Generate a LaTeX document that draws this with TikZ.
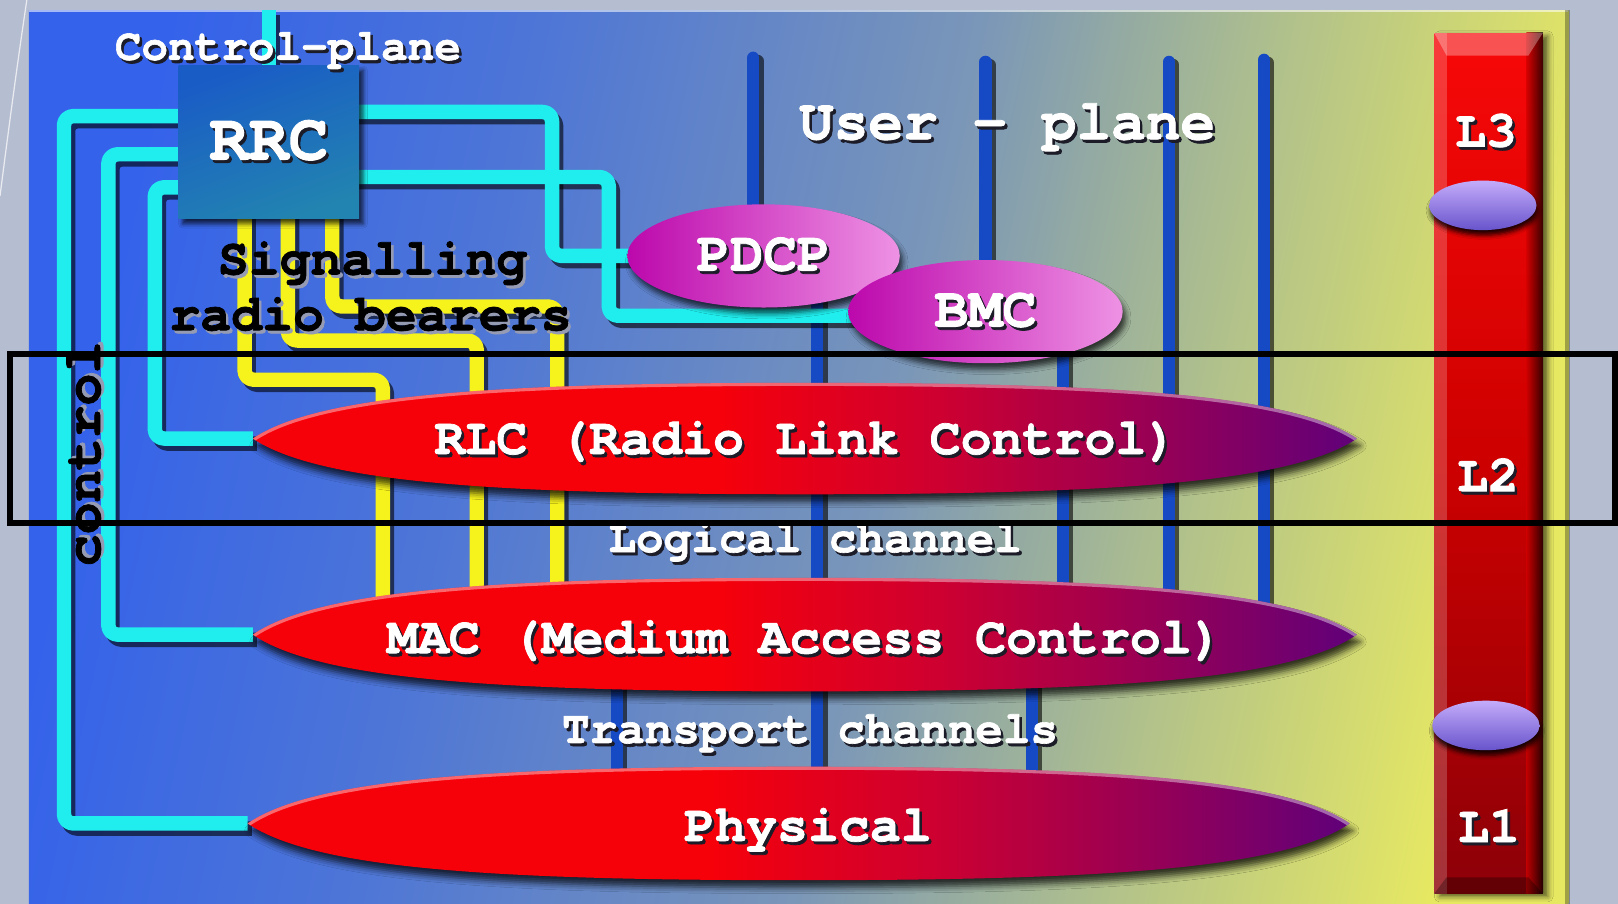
\documentclass[tikz,border=0pt]{standalone}
\usepackage{fontspec}
\newfontfamily\cour{texgyrecursor}[Extension=.otf, UprightFont=*-regular, BoldFont=*-bold, BoldFeatures={FakeBold=1.4}]
\usetikzlibrary{shapes.geometric,calc,shadows.blur}

\definecolor{slide}{RGB}{181,189,208}
\definecolor{panelA}{RGB}{52,98,234}
\definecolor{panelB}{RGB}{78,118,214}
\definecolor{panelC}{RGB}{122,150,184}
\definecolor{panelD}{RGB}{178,194,138}
\definecolor{panelE}{RGB}{230,232,98}
\definecolor{wirecyan}{RGB}{32,238,238}
\definecolor{wireyellow}{RGB}{246,242,28}
\definecolor{wireblue}{RGB}{22,74,196}
\definecolor{lensred}{RGB}{246,0,10}
\definecolor{lensmid}{RGB}{206,0,48}
\definecolor{lensdeep}{RGB}{150,0,86}
\definecolor{lenspurple}{RGB}{96,0,122}
\definecolor{magleft}{RGB}{188,8,172}
\definecolor{magright}{RGB}{238,146,228}
\definecolor{rrctop}{RGB}{26,92,198}
\definecolor{rrcbottom}{RGB}{34,132,176}
\definecolor{bartop}{RGB}{248,8,8}
\definecolor{barmid}{RGB}{205,0,0}
\definecolor{barbottom}{RGB}{140,0,8}
\definecolor{disctop}{RGB}{196,172,250}
\definecolor{discbottom}{RGB}{104,84,204}
\definecolor{darkshade}{RGB}{28,28,40}
\definecolor{lightshade}{RGB}{150,155,180}

\pgfdeclarehorizontalshading{panelshade}{100bp}{color(0bp)=(panelA); color(25bp)=(panelA); color(38bp)=(panelB); color(53bp)=(panelC); color(64bp)=(panelD); color(75bp)=(panelE); color(100bp)=(panelE)}
\pgfdeclarehorizontalshading{lensshade}{100bp}{color(0bp)=(lensred); color(25bp)=(lensred); color(46bp)=(lensred); color(56bp)=(lensmid); color(66bp)=(lensdeep); color(75bp)=(lenspurple); color(100bp)=(lenspurple)}

\pgfdeclarelayer{back}
\pgfdeclarelayer{wires}
\pgfsetlayers{back,wires,main}

\newcommand\fsz[1]{\fontsize{#1}{#1}\selectfont}
% text with a small offset shadow behind it
\newcommand\shd[2]{\makebox[0pt][l]{\hspace*{2.5pt}\raisebox{-3pt}{\textcolor{#1}{#2}}}#2}
% pointed oval: centre x, centre y, half width, half height
\newcommand\lensoutline[4]{(#1-#3,#2) .. controls (#1-0.88*#3,#2-0.8*#4) and (#1-0.552*#3,#2-#4) .. (#1,#2-#4) .. controls (#1+0.552*#3,#2-#4) and (#1+0.88*#3,#2-0.8*#4) .. (#1+#3,#2) .. controls (#1+0.88*#3,#2+0.8*#4) and (#1+0.552*#3,#2+#4) .. (#1,#2+#4) .. controls (#1-0.552*#3,#2+#4) and (#1-0.88*#3,#2+0.8*#4) .. cycle}
\newcommand\lensrim[4]{(#1-#3,#2) .. controls (#1-0.88*#3,#2-0.8*#4) and (#1-0.552*#3,#2-#4) .. (#1,#2-#4) .. controls (#1+0.552*#3,#2-#4) and (#1+0.88*#3,#2-0.8*#4) .. (#1+#3,#2)}
% a shaded layer oval with a light upper rim
\newcommand\layeroval[4]{%
  \shade[lens] \lensoutline{#1}{#2}{#3}{#4};
  \begin{scope}
    \clip \lensoutline{#1}{#2}{#3}{#4};
    \draw[rim] \lensrim{#1}{#2}{#3}{#4};
  \end{scope}}

% wire routes, drawn once as shadow and once in colour
\newcommand\bluewires[1]{%
  \draw[#1] (up1) -- (up1 |- pdcp.center);
  \draw[#1] (up2) -- (bmc.center);
  \draw[#1] (up3) -- (up3 |- macC);
  \draw[#1] (up4) -- (up4 |- macC);
  \draw[#1] (lg1) -- (lg1 |- phyC);
  \draw[#1] (lg2) -- (lg2 |- macC);
  \draw[#1] (tr1) -- (tr1 |- phyC);
  \draw[#1] (tr3) -- (tr3 |- phyC);}
\newcommand\cyanwires[1]{%
  \draw[#1] (rrc.center) -- (cpTop);
  \draw[#1] ([yshift=25pt]rrc.center) -| (c1) -- (phyW);
  \draw[#1] ([yshift=-12pt]rrc.center) -| (c2) -- (macW);
  \draw[#1] ([yshift=-44pt]rrc.center) -| (c3) -- (rlcW);
  \draw[#1] ([yshift=29pt]rrc.center) -| (c4) -- (pdcp.center);
  \draw[#1] ([yshift=-34pt]rrc.center) -| (c5) -- (c5 -| bmc.center);}
\newcommand\yellowwires[1]{%
  \draw[#1] ([xshift=-23.5pt]rrc.center) |- (y1) -- (y1 |- macC);
  \draw[#1] ([xshift=18.5pt]rrc.center) |- (y2) -- (y2 |- macC);
  \draw[#1] ([xshift=61.5pt]rrc.center) |- (y3) -- (y3 |- macC);}

\begin{document}
\begin{tikzpicture}[x=1pt,y=-1pt,
  wire/.style={line width=#1, rounded corners=9pt, line join=round},
  wshade/.style={wire=#1, draw=black, draw opacity=.6},
  cyanwire/.style={wire=14pt, draw=wirecyan},
  yellowwire/.style={wire=14pt, draw=wireyellow},
  bluewire/.style={wire=12pt, draw=wireblue, line cap=round},
  blueshade/.style={wshade=12pt, line cap=round},
  lens/.style={shading=lensshade,
    blur shadow={shadow xshift=3pt, shadow yshift=-7pt, shadow blur radius=6pt, shadow opacity=75}},
  rim/.style={draw=white, draw opacity=.4, line width=6pt},
  wtext/.style={anchor=base, inner sep=0pt, text=white},
  btext/.style={anchor=base, inner sep=0pt, text=black},
  magnode/.style={ellipse, minimum height=100pt, inner sep=0pt, left color=magleft, right color=magright,
    text=white, blur shadow={shadow xshift=3pt, shadow yshift=-6pt, shadow blur radius=5pt, shadow opacity=70}},
  rrcbox/.style={rectangle, minimum width=175pt, minimum height=149pt, inner sep=0pt,
    top color=rrctop, bottom color=rrcbottom, shading angle=20, text=white, font={\cour\bfseries\fsz{64}},
    blur shadow={shadow xshift=4pt, shadow yshift=-5pt, shadow blur radius=4pt, shadow opacity=70}},
  layerbar/.style={rectangle, minimum width=105pt, minimum height=834pt, inner sep=0pt,
    top color=bartop, bottom color=barbottom, middle color=barmid,
    blur shadow={shadow xshift=5pt, shadow yshift=-3pt, shadow blur radius=5pt, shadow opacity=60}},
  disc/.style={ellipse, minimum width=104pt, minimum height=48pt, inner sep=0pt,
    top color=disctop, bottom color=discbottom,
    blur shadow={shadow xshift=1pt, shadow yshift=-5pt, shadow blur radius=4pt, shadow opacity=85}}
]
\useasboundingbox (0,0) rectangle (1568,876);

% ---------- layer centres and tips ----------
\coordinate (rlcC) at (780,425);
\coordinate (macC) at (780,615);
\coordinate (phyC) at (774,798);
\coordinate (rlcW) at (245,425);
\coordinate (macW) at (245,615);
\coordinate (phyW) at (240,798);

% ---------- protocol layers ----------
\layeroval{780}{425}{535}{54}
\layeroval{780}{615}{535}{55}
\layeroval{774}{798}{534}{55}

\node[magnode, minimum width=264pt, font={\cour\bfseries\fsz{54}}] (pdcp) at (740,248) {\shd{darkshade}{PDCP}};
\node[magnode, minimum width=266pt, font={\cour\bfseries\fsz{55}}] (bmc) at (955,302) {\shd{darkshade}{BMC}};
\node[rrcbox] (rrc) at (260.5,137.5) {\raisebox{4pt}{\shd{darkshade}{RRC}}};

% ---------- labels ----------
\node[wtext, font={\cour\bfseries\fsz{43}}] (cplane) at (279,58) {\shd{darkshade}{Control-plane}};
\node[wtext, font={\cour\bfseries\fsz{56}}] (uplane) at (976,135) {\shd{darkshade}{User - plane}};
\node[btext, font={\cour\bfseries\fsz{50}}] (srb1) at (361,266) {\shd{lightshade}{Signalling}};
\node[btext, font={\cour\bfseries\fsz{50}}] (srb2) at (359,320) {\shd{lightshade}{radio bearers}};
\node[btext, rotate=90, font={\cour\bfseries\fsz{52}}] (ctrl) at (97,440) {\shd{lightshade}{control}};
\node[wtext, font={\cour\bfseries\fsz{50}}] (rlc) at (781,440) {\shd{darkshade}{RLC (Radio Link Control)}};
\node[wtext, font={\cour\bfseries\fsz{50}}] (mac) at (780,633) {\shd{darkshade}{MAC (Medium Access Control)}};
\node[wtext, font={\cour\bfseries\fsz{50}}] (phy) at (783,815) {\shd{darkshade}{Physical}};
\node[wtext, font={\cour\bfseries\fsz{44.5}}] (logch) at (790,535) {\shd{darkshade}{Logical channel}};
\node[wtext, font={\cour\bfseries\fsz{44.5}}] (trch) at (785,720) {\shd{darkshade}{Transport channels}};

% ---------- L1/L2/L3 bar ----------
\node[layerbar] (bar) at (1442.5,449) {};
\fill[white, opacity=.2] (bar.north west) rectangle ([xshift=12pt]bar.south west);
\shade[left color=barmid, right color=black, opacity=.75] ([xshift=-16pt]bar.north east) rectangle (bar.south east);
\fill[white, opacity=.3] (bar.north west) -- (bar.north east) -- ([xshift=-14pt,yshift=-22pt]bar.north east) -- ([xshift=12pt,yshift=-22pt]bar.north west) -- cycle;
\fill[black, opacity=.3] (bar.south west) -- (bar.south east) -- ([xshift=-14pt,yshift=16pt]bar.south east) -- ([xshift=12pt,yshift=16pt]bar.south west) -- cycle;
\node[disc] (disc23) at (1437,199) {};
\node[disc] (disc12) at (1440,703) {};
\node[wtext, font={\cour\bfseries\fsz{50}}] (l3) at (1440,142) {\shd{darkshade}{L3}};
\node[wtext, font={\cour\bfseries\fsz{50}}] (l2) at (1442,476) {\shd{darkshade}{L2}};
\node[wtext, font={\cour\bfseries\fsz{50}}] (l1) at (1443,816) {\shd{darkshade}{L1}};

% ---------- L2 frame ----------
\draw[line width=5.5pt] (10,343) rectangle (1565,507);

% ---------- wiring ----------
\begin{pgfonlayer}{wires}
  \coordinate (up1) at (730,56);
  \coordinate (up2) at (955,60);
  \coordinate (up3) at (1133,60);
  \coordinate (up4) at (1225,58);
  \coordinate (lg1) at (792,270);
  \coordinate (lg2) at (1030,302);
  \coordinate (tr1) at (598,615);
  \coordinate (tr3) at (1000,615);
  \coordinate (cpTop) at (260.5,10);
  \coordinate (c1) at (62,798);
  \coordinate (c2) at (105,615);
  \coordinate (c3) at (150,425);
  \coordinate (c4) at (535,248);
  \coordinate (c5) at (590,306);
  \coordinate (y1) at (371,368);
  \coordinate (y2) at (462,330);
  \coordinate (y3) at (540,297);
  % user-plane bearers
  \begin{scope}[transform canvas={xshift=4pt,yshift=-3pt}]\bluewires{blueshade}\end{scope}
  \bluewires{bluewire}
  % control-plane links from RRC
  \begin{scope}[transform canvas={xshift=4pt,yshift=-5pt}]\cyanwires{wshade=14pt}\end{scope}
  \cyanwires{cyanwire}
  % signalling radio bearers
  \begin{scope}[transform canvas={xshift=4pt,yshift=-5pt}]\yellowwires{wshade=14pt}\end{scope}
  \yellowwires{yellowwire}
\end{pgfonlayer}

% ---------- backdrop ----------
\begin{pgfonlayer}{back}
  \fill[slide] (0,0) rectangle (1568,876);
  \draw[white!70!slide, line width=1.2pt] (0,190) .. controls (9,120) and (17,60) .. (26,0);
  \shade[shading=panelshade, shading angle=-12] (28,10) rectangle (1520,880);
  \draw[white, opacity=.55, line width=2pt] (28,11) -- (1520,11);
  \fill[black, opacity=.3] (1517,10) rectangle (1521,876);
\end{pgfonlayer}
\end{tikzpicture}
\end{document}
